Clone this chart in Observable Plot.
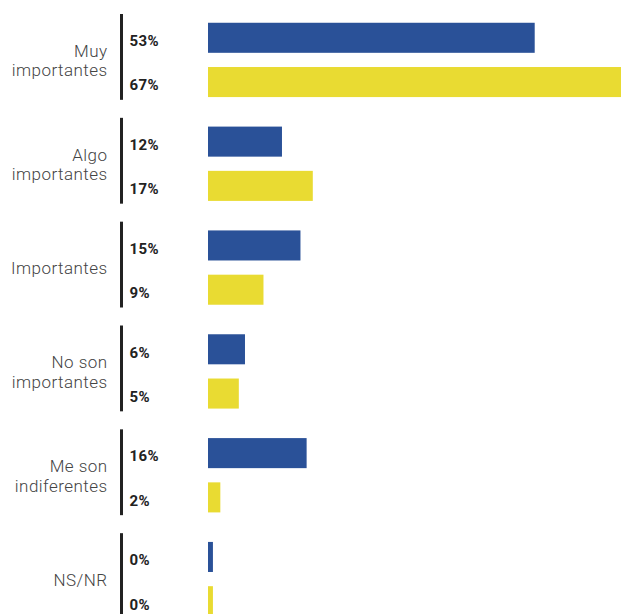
<!DOCTYPE html>
<html><head><meta charset="utf-8">
<script src="https://cdn.jsdelivr.net/npm/d3@7"></script>
<script src="https://cdn.jsdelivr.net/npm/@observablehq/plot@0.6"></script>
<style>
html,body{margin:0;padding:0;overflow:hidden;background:#fff}
</style>
</head><body><div id="chart"></div>
<script>
const categories = ["Muy\nimportantes", "Algo\nimportantes", "Importantes", "No son\nimportantes", "Me son\nindiferentes", "NS/NR"];
const series = ["Serie 1", "Serie 2"];
const values1 = [53, 12, 15, 6, 16, 0];
const values2 = [67, 17, 9, 5, 2, 0];
const colors = ["#2A5198", "#E9DB32"];
const minVisible = 0.8; // zero-valued bars still shown as a thin sliver

const rows = categories.flatMap((c, i) => [
  {category: c, series: series[0], value: values1[i]},
  {category: c, series: series[1], value: values2[i]}
]);
const isFirst = d => d.series === series[0];

const chart = Plot.plot({
  width: 621,
  height: 631,
  marginLeft: 208,
  marginRight: 0,
  marginTop: 8,
  marginBottom: 0,
  style: {fontFamily: "Roboto, 'Noto Sans', sans-serif", background: "#fff", letterSpacing: "0.45px"},
  facet: {data: rows, y: "category", marginTop: 8, marginBottom: 0, marginLeft: 208, marginRight: 0},
  fy: {domain: categories, padding: 0, round: false, axis: null},
  y: {domain: series, paddingInner: 0.321, paddingOuter: 0.3335, round: false, axis: null},
  x: {domain: [0, 67], axis: null},
  color: {domain: series, range: colors},
  marks: [
    Plot.barX(rows, {x: d => Math.max(d.value, minVisible), y: "series", fill: "series"}),
    Plot.ruleX(rows, {filter: isFirst, x: () => 0, dx: -87, insetTop: 6, insetBottom: 12, stroke: "#222", strokeWidth: 3}),
    Plot.text(rows, {x: () => 0, y: "series", text: d => d.value + "%", dx: -79, dy: 3, textAnchor: "start", fontWeight: "bold", fontSize: 15, fill: "#222"}),
    Plot.text(rows, {filter: isFirst, x: () => 0, text: "category", dx: -101, textAnchor: "end", frameAnchor: "middle", fontSize: 17, lineHeight: 1.15, fill: "#444", fontWeight: 300})
  ]
});
document.getElementById("chart").appendChild(chart);
</script>
</body></html>
